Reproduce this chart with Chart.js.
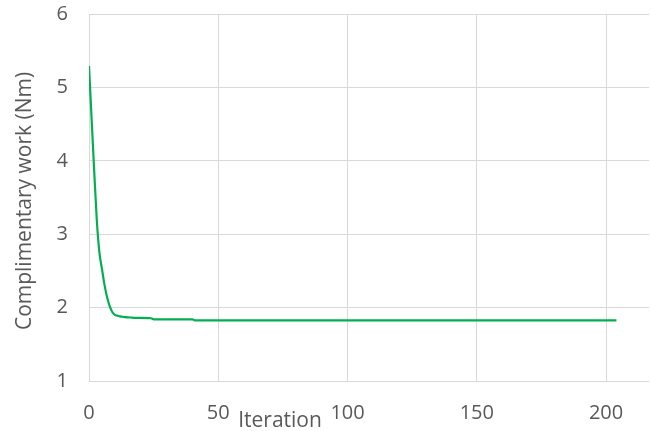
<!DOCTYPE html>
<html>
<head>
<meta charset="utf-8">
<script src="https://cdn.jsdelivr.net/npm/chart.js@4"></script>
<style>
  html, body { margin: 0; padding: 0; background: #fff; }
  #wrap { width: 651px; height: 431px; position: relative; }
</style>
</head>
<body>
<div id="wrap"><canvas id="c" width="651" height="431"></canvas></div>
<script>
// Convergence of the complimentary work over the optimisation iterations
const iterations = [0, 1, 2, 3, 4, 5, 6, 7, 8, 9, 10, 11, 12, 13, 14, 16, 18, 24, 25, 40, 41, 204];
const work = [5.29, 4.58, 3.87, 3.2, 2.76, 2.53, 2.31, 2.14, 2.02, 1.94, 1.90, 1.89, 1.88, 1.875, 1.87, 1.865, 1.86, 1.855, 1.84, 1.84, 1.825, 1.825];

const xTitle = 'Iteration';
const yTitle = 'Complimentary work (Nm)';

const FONT = '"Open Sans", "Liberation Sans", sans-serif';
const TEXT = '#595959';
const GRID = '#d9d9d9';

const points = iterations.map((x, i) => ({ x: x, y: work[i] }));

// Axis titles placed freely, as in the original layout
const axisTitles = {
  id: 'axisTitles',
  afterDraw(chart) {
    const ctx = chart.ctx;
    ctx.save();
    ctx.fillStyle = TEXT;
    ctx.font = '21px ' + FONT;
    ctx.textAlign = 'center';
    ctx.textBaseline = 'middle';
    ctx.fillText(xTitle, 280, 421);
    ctx.translate(25, 201);
    ctx.rotate(-Math.PI / 2);
    ctx.fillText(yTitle, 0, 0);
    ctx.restore();
  }
};

new Chart(document.getElementById('c'), {
  type: 'line',
  data: {
    datasets: [{
      data: points,
      borderColor: 'rgb(0,176,80)',
      borderWidth: 2.2,
      pointRadius: 0,
      cubicInterpolationMode: 'monotone',
      fill: false
    }]
  },
  options: {
    responsive: false,
    animation: false,
    layout: { padding: { top: 0, right: 2, left: 0, bottom: 0 } },
    plugins: { legend: { display: false }, tooltip: { enabled: false } },
    scales: {
      x: {
        type: 'linear',
        min: 0,
        max: 216.6,
        afterFit(scale) { scale.height = 50; },
        grid: { color: GRID, lineWidth: 1, drawTicks: false },
        border: { display: false },
        ticks: {
          stepSize: 50,
          includeBounds: false,
          padding: 20,
          color: TEXT,
          font: { family: FONT, size: 20 },
          maxRotation: 0
        }
      },
      y: {
        min: 1,
        max: 6,
        afterFit(scale) {
          scale.width = 89;
          scale.paddingTop = 14;
          scale.paddingBottom = 0;
        },
        grid: { color: GRID, lineWidth: 1, drawTicks: false },
        border: { display: false },
        ticks: {
          stepSize: 1,
          padding: 21,
          color: TEXT,
          font: { family: FONT, size: 20 }
        }
      }
    }
  },
  plugins: [axisTitles]
});
</script>
</body>
</html>
